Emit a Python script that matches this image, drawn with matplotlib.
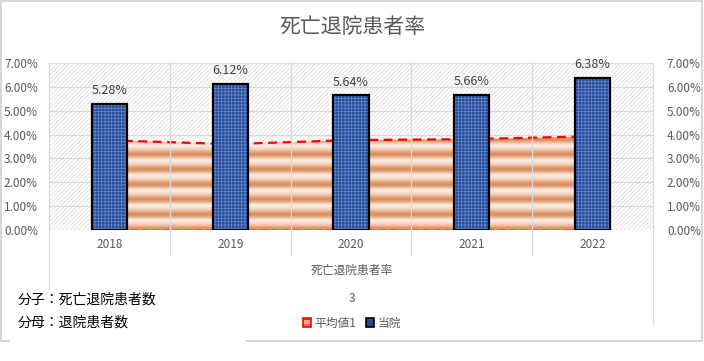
import numpy as np
import matplotlib
matplotlib.use("Agg")
import matplotlib.pyplot as plt
from matplotlib.patches import Rectangle, Patch
from matplotlib.colors import LinearSegmentedColormap

plt.rcParams['font.family'] = ['Noto Sans CJK JP', 'DejaVu Sans']
plt.rcParams['hatch.linewidth'] = 0.6

# data
years = ['2018', '2019', '2020', '2021', '2022']
hospital = [5.28, 6.12, 5.64, 5.66, 6.38]      # 当院 (%)
average = [3.76, 3.60, 3.77, 3.81, 3.93]       # 平均値1 (%)
title = '死亡退院患者率'
axis_title = '死亡退院患者率'
level3 = '3'
note_lines = ['分子：死亡退院患者数', '分母：退院患者数']

gray = '#595959'
grid = '#d9d9d9'

fig = plt.figure(figsize=(7.04, 3.61), dpi=100)
W, H = 704, 361

def fx(px):
    return px / W

def fy(py):
    return 1 - py / H

ax = fig.add_axes([fx(49), fy(230), fx(653) - fx(49), (230 - 63) / H])
x = np.arange(len(years))

# plot area background: light diagonal hatch
ax.add_patch(Rectangle((0, 0), 1, 1, transform=ax.transAxes, facecolor='white',
                       edgecolor='#e0e0e0', hatch='////////', lw=0, zorder=0))

# horizontal grid
for v in range(0, 8):
    ax.axhline(v, color=grid, lw=0.9, zorder=0.5)

# average series as striped area with red dashed border
poly = ax.fill_between(x, 0, average, facecolor='none', edgecolor='none', zorder=1)
stripe_cmap = LinearSegmentedColormap.from_list(
    'stripe', ['#fbeee5', '#f3d2bb', '#e7ad86', '#d88c5c'])
rows = 700
phase = (np.linspace(0, 7, rows) / 0.63) % 1.0
profile = np.interp(phase, [0, 0.15, 0.3, 0.5, 0.65, 0.8, 1.0],
                    [1.0, 0.85, 0.5, 0.15, 0.0, 0.45, 1.0])
img = ax.imshow(profile[:, None], extent=[-0.5, 4.5, 0, 7], origin='lower',
                aspect='auto', cmap=stripe_cmap, zorder=1, interpolation='bilinear')
img.set_clip_path(poly.get_paths()[0], transform=ax.transData)
ax.plot(x, average, color='#ff0000', lw=1.6, ls=(0, (4, 2.5)), zorder=1.5)
ax.plot(x, [0] * len(x), color='#ff5050', lw=1.2, ls=(0, (4, 2.5)), zorder=1.5)

# hospital bars
bw = 0.29
ax.bar(x, hospital, width=bw, color='#244a96', edgecolor='#6485cc', hatch='+++++',
       lw=0, zorder=2)
ax.bar(x, hospital, width=bw, fill=False, edgecolor='black', lw=1.6, zorder=3)
for xi, v in zip(x, hospital):
    ax.annotate(f'{v:.2f}%', (xi, v), xytext=(0, 5), textcoords='offset points',
                ha='center', va='bottom', fontsize=9, color='#404040')

ax.set_xlim(-0.5, 4.5)
ax.set_ylim(0, 7)
ax.set_yticks(range(0, 8))
ax.set_yticklabels([f'{v:.2f}%' for v in range(0, 8)])
ax.tick_params(axis='y', length=0, pad=8, labelsize=8.5, labelcolor=gray)
ax.set_xticks(x)
ax.set_xticklabels(years)
ax.tick_params(axis='x', length=0, pad=6, labelsize=8.5, labelcolor=gray)
for s in ax.spines.values():
    s.set_visible(False)

ax2 = ax.twinx()
ax2.set_ylim(0, 7)
ax2.set_yticks(range(0, 8))
ax2.set_yticklabels([f'{v:.2f}%' for v in range(0, 8)])
ax2.tick_params(axis='y', length=0, pad=10, labelsize=8.5, labelcolor=gray)
for s in ax2.spines.values():
    s.set_visible(False)

# vertical category grid lines, extending below the axis
bounds = np.arange(-0.5, 5, 1.0)
for i, b in enumerate(bounds):
    bottom = fy(324) if i in (0, len(bounds) - 1) else fy(255)
    xf = fx(49) + (b + 0.5) / 5 * (fx(653) - fx(49))
    fig.add_artist(plt.Line2D([xf, xf], [bottom, fy(63)], color=grid, lw=0.9, zorder=0.4))

fig.text(0.5, fy(27), title, ha='center', va='center', fontsize=15, color=gray)
fig.text(0.5, fy(270), axis_title, ha='center', va='center', fontsize=8.5, color=gray)
fig.text(0.5, fy(298), level3, ha='center', va='center', fontsize=8.5, color=gray)

handles = [Patch(facecolor='#e7ad86', edgecolor='#ff0000', hatch='---', lw=1.2),
           Patch(facecolor='#244a96', edgecolor='black', lw=1.2)]
fig.legend(handles, ['平均値1', '当院'], loc='center', bbox_to_anchor=(0.5, fy(323)),
           ncol=2, frameon=False, fontsize=8.5, labelcolor=gray, handlelength=0.7,
           handleheight=0.9, handletextpad=0.3, columnspacing=0.8)

# chart border
fig.add_artist(Rectangle((fx(1), fy(341)), fx(702) - fx(1), fy(1) - fy(341),
                         transform=fig.transFigure, fill=False, edgecolor='#d0d0d0', lw=1.2))
fig.add_artist(Rectangle((fx(10), fy(346)), fx(245) - fx(10), fy(290) - fy(346),
                         transform=fig.transFigure, facecolor='white', edgecolor='none', zorder=3))
fig.text(fx(18), fy(300), note_lines[0], ha='left', va='center', fontsize=10, color='black', zorder=4)
fig.text(fx(18), fy(323), note_lines[1], ha='left', va='center', fontsize=10, color='black', zorder=4)

fig.savefig('out.png', dpi=100)
